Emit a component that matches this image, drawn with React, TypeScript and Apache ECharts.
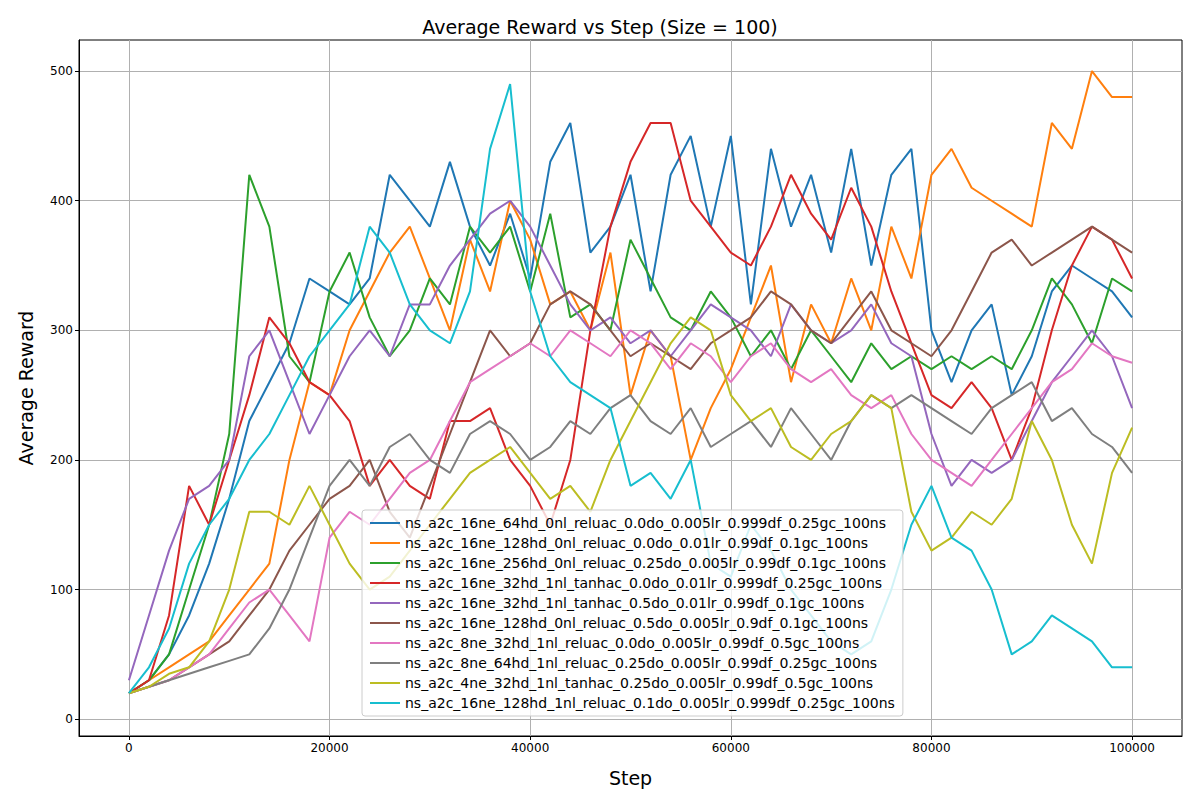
import { useEffect, useRef } from 'react';
import * as echarts from 'echarts';

// steps every 2000 (coarse trend of the noisy curves)
const steps: number[] = Array.from({ length: 51 }, (_, i) => i * 2000);

const names = [
  'ns_a2c_16ne_64hd_0nl_reluac_0.0do_0.005lr_0.999df_0.25gc_100ns',
  'ns_a2c_16ne_128hd_0nl_reluac_0.0do_0.01lr_0.99df_0.1gc_100ns',
  'ns_a2c_16ne_256hd_0nl_reluac_0.25do_0.005lr_0.99df_0.1gc_100ns',
  'ns_a2c_16ne_32hd_1nl_tanhac_0.0do_0.01lr_0.999df_0.25gc_100ns',
  'ns_a2c_16ne_32hd_1nl_tanhac_0.5do_0.01lr_0.99df_0.1gc_100ns',
  'ns_a2c_16ne_128hd_0nl_reluac_0.5do_0.005lr_0.9df_0.1gc_100ns',
  'ns_a2c_8ne_32hd_1nl_reluac_0.0do_0.005lr_0.99df_0.5gc_100ns',
  'ns_a2c_8ne_64hd_1nl_reluac_0.25do_0.005lr_0.99df_0.25gc_100ns',
  'ns_a2c_4ne_32hd_1nl_tanhac_0.25do_0.005lr_0.99df_0.5gc_100ns',
  'ns_a2c_16ne_128hd_1nl_reluac_0.1do_0.005lr_0.999df_0.25gc_100ns',
];

const colors = ['#1f77b4', '#ff7f0e', '#2ca02c', '#d62728', '#9467bd', '#8c564b', '#e377c2', '#7f7f7f', '#bcbd22', '#17becf'];

const blue = [20, 30, 50, 80, 120, 170, 230, 260, 290, 340, 330, 320, 340, 420, 400, 380, 430, 380, 350, 390, 340, 430, 460, 360, 380, 420, 330, 420, 450, 380, 450, 320, 440, 380, 420, 360, 440, 350, 420, 440, 300, 260, 300, 320, 250, 280, 330, 350, 340, 330, 310];
const orange = [20, 30, 40, 50, 60, 80, 100, 120, 200, 260, 250, 300, 330, 360, 380, 340, 300, 370, 330, 400, 370, 320, 330, 300, 360, 250, 300, 280, 200, 240, 270, 310, 350, 260, 320, 290, 340, 300, 380, 340, 420, 440, 410, 400, 390, 380, 460, 440, 500, 480, 480];
const green = [20, 30, 50, 100, 150, 220, 420, 380, 280, 260, 330, 360, 310, 280, 300, 340, 320, 380, 360, 380, 330, 390, 310, 320, 300, 370, 340, 310, 300, 330, 310, 280, 300, 270, 300, 280, 260, 290, 270, 280, 270, 280, 270, 280, 270, 300, 340, 320, 290, 340, 330];
const red = [20, 30, 80, 180, 150, 200, 250, 310, 290, 260, 250, 230, 180, 200, 180, 170, 230, 230, 240, 200, 180, 150, 200, 300, 380, 430, 460, 460, 400, 380, 360, 350, 380, 420, 390, 370, 410, 380, 330, 290, 250, 240, 260, 240, 200, 240, 300, 350, 380, 370, 340];
const purple = [30, 80, 130, 170, 180, 200, 280, 300, 260, 220, 250, 280, 300, 280, 320, 320, 350, 370, 390, 400, 380, 350, 320, 300, 310, 290, 300, 280, 300, 320, 310, 300, 280, 320, 300, 290, 300, 320, 290, 280, 220, 180, 200, 190, 200, 230, 260, 280, 300, 280, 240];
const brown = [20, 25, 30, 40, 50, 60, 80, 100, 130, 150, 170, 180, 200, 160, 140, 180, 220, 260, 300, 280, 290, 320, 330, 320, 300, 280, 290, 280, 270, 290, 300, 310, 330, 320, 300, 290, 310, 330, 300, 290, 280, 300, 330, 360, 370, 350, 360, 370, 380, 370, 360];
const pink = [20, 25, 30, 40, 50, 70, 90, 100, 80, 60, 140, 160, 150, 170, 190, 200, 230, 260, 270, 280, 290, 280, 300, 290, 280, 300, 290, 270, 290, 280, 260, 280, 290, 270, 260, 270, 250, 240, 250, 220, 200, 190, 180, 200, 220, 240, 260, 270, 290, 280, 275];
const gray = [20, 25, 30, 35, 40, 45, 50, 70, 100, 140, 180, 200, 180, 210, 220, 200, 190, 220, 230, 220, 200, 210, 230, 220, 240, 250, 230, 220, 240, 210, 220, 230, 210, 240, 220, 200, 230, 250, 240, 250, 240, 230, 220, 240, 250, 260, 230, 240, 220, 210, 190];
const olive = [20, 25, 35, 40, 60, 100, 160, 160, 150, 180, 150, 120, 100, 110, 130, 150, 170, 190, 200, 210, 190, 170, 180, 160, 200, 230, 260, 290, 310, 300, 250, 230, 240, 210, 200, 220, 230, 250, 240, 160, 130, 140, 160, 150, 170, 230, 200, 150, 120, 190, 225];
const cyan = [20, 40, 70, 120, 150, 170, 200, 220, 250, 280, 300, 320, 380, 360, 320, 300, 290, 330, 440, 490, 330, 280, 260, 250, 240, 180, 190, 170, 200, 120, 110, 150, 130, 100, 80, 60, 50, 60, 100, 150, 180, 140, 130, 100, 50, 60, 80, 70, 60, 40, 40];

const seriesValues = [blue, orange, green, red, purple, brown, pink, gray, olive, cyan];
const xTicks = [0, 20000, 40000, 60000, 80000, 100000];
const yTicks = [0, 100, 200, 300, 400, 500];

export default function App() {
  const ref = useRef<HTMLDivElement>(null);

  useEffect(() => {
    if (!ref.current) return;
    const chart = echarts.init(ref.current, undefined, { renderer: 'svg' });
    const font = 'DejaVu Sans';
    chart.setOption({
      animation: false,
      textStyle: { fontFamily: font },
      title: {
        text: 'Average Reward vs Step (Size = 100)',
        left: 'center',
        top: 4,
        textStyle: { fontSize: 19, fontWeight: 'normal', color: '#000', fontFamily: font },
      },
      grid: { left: 69, right: 10, top: 32, bottom: 55, show: true, borderColor: '#000', borderWidth: 1 },
      legend: {
        orient: 'vertical',
        left: 354,
        top: 502,
        padding: [6, 8],
        itemGap: 6,
        itemWidth: 30,
        itemHeight: 2,
        icon: 'rect',
        backgroundColor: 'rgba(255,255,255,0.8)',
        borderColor: '#ccc',
        borderWidth: 1,
        borderRadius: 3,
        textStyle: { fontSize: 14, color: '#000', lineHeight: 14, fontFamily: font },
      },
      xAxis: {
        type: 'value',
        min: -4975,
        max: 104975,
        name: 'Step',
        nameLocation: 'middle',
        nameGap: 32,
        nameTextStyle: { fontSize: 19, color: '#000' },
        axisLine: { show: true, onZero: false, lineStyle: { color: '#000' } },
        axisTick: { show: true, inside: false, length: 4, customValues: xTicks, lineStyle: { color: '#000' } },
        axisLabel: { customValues: xTicks, fontSize: 12, color: '#000', margin: 6, formatter: (v: number) => String(v) },
        splitLine: { show: true, lineStyle: { color: '#b0b0b0', width: 1 } },
      },
      yAxis: {
        type: 'value',
        min: -13,
        max: 524,
        name: 'Average Reward',
        nameLocation: 'middle',
        nameGap: 44,
        nameTextStyle: { fontSize: 19, color: '#000' },
        axisLine: { show: true, onZero: false, lineStyle: { color: '#000' } },
        axisTick: { show: true, inside: false, length: 4, customValues: yTicks, lineStyle: { color: '#000' } },
        axisLabel: { customValues: yTicks, fontSize: 12, color: '#000', margin: 6, formatter: (v: number) => String(v) },
        splitLine: { show: true, lineStyle: { color: '#b0b0b0', width: 1 } },
      },
      series: seriesValues.map((vals, i) => ({
        type: 'line',
        name: names[i],
        data: steps.map((s, j) => [s, vals[j]]),
        showSymbol: false,
        symbol: 'none',
        lineStyle: { width: 2, color: colors[i] },
        itemStyle: { color: colors[i] },
      })),
    });
    return () => chart.dispose();
  }, []);

  return <div ref={ref} style={{ width: 1184, height: 784 }} />;
}
